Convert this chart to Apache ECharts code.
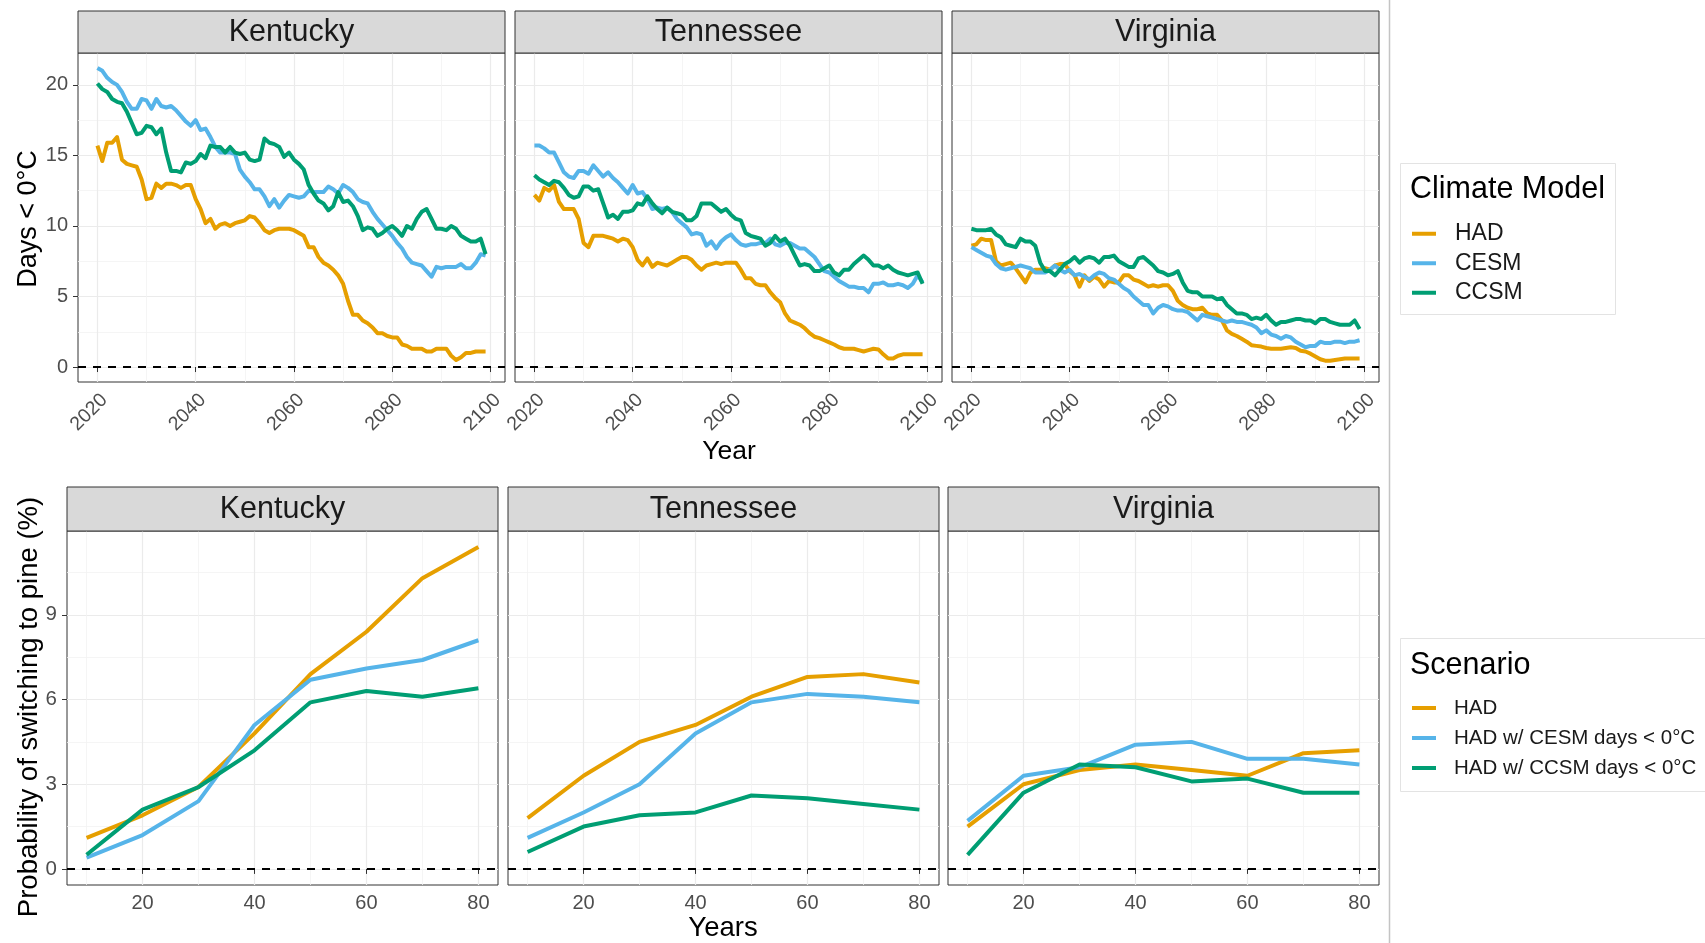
<!DOCTYPE html>
<html>
<head>
<meta charset="utf-8">
<title>Days below 0°C and probability of switching to pine</title>
<script src="https://cdn.jsdelivr.net/npm/echarts@6.0.0/dist/echarts.min.js"></script>
<style>
  html, body { margin: 0; padding: 0; background: #fff; }
  #chart { width: 1705px; height: 943px; }
</style>
</head>
<body>
<div id="chart"></div>
<script>
// ---- data ----
const states = ['Kentucky', 'Tennessee', 'Virginia'];
const climateModels = ['HAD', 'CESM', 'CCSM'];
const scenarios = ['HAD', 'HAD w/ CESM days < 0°C', 'HAD w/ CCSM days < 0°C'];

// yearly values 2020..2099
const years = Array.from({ length: 80 }, (_, i) => 2020 + i);

const kyHad = [15.7,14.6,15.9,15.9,16.3,14.7,14.4,14.3,14.2,13.3,
  11.9,12.0,13.0,12.7,13.0,13.0,12.9,12.7,12.9,12.9,
  11.9,11.2,10.2,10.5,9.8,10.1,10.2,10.0,10.2,10.3,
  10.4,10.7,10.6,10.2,9.7,9.5,9.7,9.8,9.8,9.8,
  9.7,9.5,9.3,8.5,8.5,7.8,7.4,7.2,6.9,6.5,
  5.9,4.7,3.7,3.7,3.3,3.1,2.8,2.4,2.4,2.2,
  2.1,2.1,1.6,1.5,1.3,1.3,1.3,1.1,1.1,1.3,
  1.3,1.3,0.8,0.5,0.7,1.0,1.0,1.1,1.1,1.1];
const kyCesm = [21.2,21.0,20.5,20.2,20.0,19.5,18.8,18.3,18.3,19.0,
  18.9,18.3,19.0,18.5,18.4,18.5,18.2,17.8,17.4,17.1,
  17.5,16.8,16.9,16.3,15.6,15.2,15.2,15.2,15.1,14.0,
  13.5,13.1,12.6,12.6,12.1,11.4,11.9,11.3,11.8,12.2,
  12.1,12.0,12.1,12.5,12.4,12.4,12.4,12.8,12.6,12.3,
  12.9,12.7,12.4,11.9,11.7,11.6,11.0,10.5,10.1,9.7,
  9.3,8.8,8.4,7.8,7.4,7.3,7.2,6.8,6.4,7.1,
  7.0,7.1,7.1,7.1,7.3,7.0,7.0,7.4,8.0,7.9];
const kyCcsm = [20.1,19.7,19.5,19.0,18.8,18.7,18.1,17.3,16.5,16.6,
  17.1,17.0,16.5,16.9,15.2,13.9,13.9,13.8,14.5,14.4,
  14.6,15.1,14.8,15.7,15.6,15.6,15.2,15.6,15.2,15.1,
  15.2,14.7,14.6,14.7,16.2,15.9,15.8,15.6,14.9,15.2,
  14.7,14.4,14.0,12.9,12.3,11.8,11.6,11.1,11.4,12.4,
  11.7,11.8,11.4,10.7,9.7,9.9,9.8,9.3,9.5,9.8,
  10.0,9.7,9.3,10.0,9.8,10.5,11.0,11.2,10.5,9.8,
  9.8,9.7,10.0,9.8,9.3,9.1,8.9,8.9,9.1,8.0];

const tnHad = [12.2,11.8,12.7,12.5,12.9,11.7,11.2,11.2,11.2,10.5,
  8.8,8.5,9.3,9.3,9.3,9.2,9.1,8.9,9.1,9.0,
  8.5,7.6,7.2,7.7,7.1,7.4,7.3,7.2,7.4,7.6,
  7.8,7.8,7.6,7.2,6.9,7.2,7.3,7.4,7.3,7.4,
  7.4,7.4,6.9,6.3,6.3,5.9,5.8,5.8,5.3,4.9,
  4.6,3.8,3.3,3.15,3.0,2.75,2.4,2.15,2.05,1.9,
  1.75,1.6,1.4,1.3,1.3,1.3,1.2,1.1,1.2,1.3,
  1.25,0.9,0.6,0.6,0.8,0.9,0.9,0.9,0.9,0.9];
const tnCesm = [15.7,15.7,15.5,15.2,15.2,14.5,13.8,13.5,13.4,13.9,
  13.9,13.7,14.3,13.9,13.5,13.8,13.4,13.1,12.7,12.3,
  12.9,12.3,12.4,11.9,11.2,11.3,11.2,11.3,11.0,10.5,
  10.2,9.9,9.4,9.5,9.4,8.6,8.9,8.4,8.9,9.2,
  9.4,9.0,8.7,8.6,8.7,8.7,8.8,8.8,9.1,8.7,
  8.6,8.8,8.8,8.6,8.4,8.4,8.1,7.8,7.3,6.8,
  6.7,6.4,6.1,5.9,5.7,5.7,5.6,5.6,5.3,5.9,
  5.9,6.0,5.8,5.8,5.9,5.8,5.6,5.9,6.5,6.0];
const tnCcsm = [13.6,13.3,13.1,12.9,13.2,13.1,12.7,12.2,12.0,12.1,
  12.8,12.8,12.5,12.6,11.6,10.6,10.8,10.5,11.0,11.0,
  11.1,11.6,11.5,12.1,11.6,11.2,10.9,11.3,11.0,10.9,
  10.8,10.4,10.4,10.7,11.6,11.6,11.6,11.3,11.0,11.2,
  10.8,10.5,10.4,9.5,9.3,9.2,9.1,8.6,8.8,9.3,
  8.9,9.1,8.6,7.9,7.2,7.3,7.2,6.8,6.8,7.0,
  7.2,6.7,6.5,6.9,6.9,7.3,7.6,7.9,7.6,7.2,
  7.2,7.0,7.2,6.9,6.7,6.6,6.5,6.6,6.7,5.9];

const vaHad = [8.6,8.7,9.1,9.0,9.0,7.5,7.2,7.3,7.4,7.0,
  6.5,6.0,6.7,6.9,6.9,7.0,6.9,7.2,7.3,7.3,
  6.8,6.5,5.7,6.5,6.1,6.4,6.2,5.7,6.1,6.0,
  6.0,6.5,6.5,6.2,6.1,5.9,5.7,5.8,5.7,5.8,
  5.8,5.4,4.7,4.4,4.2,4.1,4.1,4.2,3.8,3.7,
  3.7,3.3,2.6,2.35,2.2,2.0,1.8,1.55,1.5,1.45,
  1.35,1.3,1.3,1.3,1.35,1.4,1.35,1.15,1.1,0.95,
  0.75,0.55,0.45,0.45,0.5,0.55,0.6,0.6,0.6,0.6];
const vaCesm = [8.5,8.3,8.1,7.9,7.8,7.3,7.0,6.9,7.0,7.1,
  7.2,7.1,7.0,6.7,6.7,6.7,6.9,7.2,6.9,6.7,
  6.9,6.5,6.6,6.4,6.2,6.5,6.7,6.6,6.3,6.2,
  5.9,5.6,5.4,5.0,4.7,4.4,4.4,3.8,4.2,4.4,
  4.3,4.1,4.0,4.0,3.9,3.6,3.3,3.7,3.6,3.5,
  3.4,3.3,3.2,3.3,3.2,3.2,3.1,3.0,2.8,2.4,
  2.6,2.3,2.2,2.0,2.2,2.1,1.8,1.6,1.4,1.5,
  1.5,1.8,1.7,1.7,1.8,1.8,1.7,1.8,1.8,1.9];
const vaCcsm = [9.8,9.7,9.7,9.7,9.8,9.4,9.2,8.7,8.6,8.5,
  9.1,8.9,8.9,8.6,7.4,6.8,6.8,6.5,6.9,7.3,
  7.5,7.8,7.4,7.7,7.8,7.7,7.4,7.8,7.8,7.9,
  7.5,7.3,7.1,7.1,7.7,7.8,7.5,7.2,6.8,6.7,
  6.5,6.6,6.8,6.0,5.4,5.3,5.3,5.0,5.0,5.0,
  4.8,4.9,4.4,4.1,3.8,3.8,3.7,3.4,3.5,3.4,
  3.7,3.3,3.0,3.2,3.2,3.3,3.4,3.4,3.3,3.3,
  3.1,3.4,3.4,3.2,3.1,3.0,3.0,3.0,3.3,2.7];

// probability of switching to pine (%) by stand years
const standYears = [10, 20, 30, 40, 50, 60, 70, 80];
const kyPineHad  = [1.1, 1.9, 2.9, 4.8, 6.9, 8.4, 10.3, 11.4];
const kyPineCesm = [0.4, 1.2, 2.4, 5.1, 6.7, 7.1, 7.4, 8.1];
const kyPineCcsm = [0.5, 2.1, 2.9, 4.2, 5.9, 6.3, 6.1, 6.4];
const tnPineHad  = [1.8, 3.3, 4.5, 5.1, 6.1, 6.8, 6.9, 6.6];
const tnPineCesm = [1.1, 2.0, 3.0, 4.8, 5.9, 6.2, 6.1, 5.9];
const tnPineCcsm = [0.6, 1.5, 1.9, 2.0, 2.6, 2.5, 2.3, 2.1];
const vaPineHad  = [1.5, 3.0, 3.5, 3.7, 3.5, 3.3, 4.1, 4.2];
const vaPineCesm = [1.7, 3.3, 3.6, 4.4, 4.5, 3.9, 3.9, 3.7];
const vaPineCcsm = [0.5, 2.7, 3.7, 3.6, 3.1, 3.2, 2.7, 2.7];

// tick labels
const yearTicks = [2020, 2040, 2060, 2080, 2100];
const yearMinor = [2030, 2050, 2070, 2090];
const daysTicks = [0, 5, 10, 15, 20];
const daysMinor = [2.5, 7.5, 12.5, 17.5];
const standTicks = [20, 40, 60, 80];
const standMinor = [10, 30, 50, 70];
const probTicks = [0, 3, 6, 9];
const probMinor = [1.5, 4.5, 7.5, 10.5];

// ---- style ----
const FONT = '"Liberation Sans", Arial, Helvetica, sans-serif';
const COLORS = ['#E69F00', '#56B4E9', '#009E73'];

// ggplot-like 5% expansion of the data range (0 included by the dashed line)
function expand(lo, hi) {
  const pad = (hi - lo) * 0.05;
  return [lo - pad, hi + pad];
}

const topSeries = [[kyHad, kyCesm, kyCcsm], [tnHad, tnCesm, tnCcsm], [vaHad, vaCesm, vaCcsm]];
const botSeries = [[kyPineHad, kyPineCesm, kyPineCcsm], [tnPineHad, tnPineCesm, tnPineCcsm], [vaPineHad, vaPineCesm, vaPineCcsm]];

const topX = expand(years[0], years[years.length - 1]);
const topY = expand(0, Math.max(...topSeries.flat(2)));
const botX = expand(standYears[0], standYears[standYears.length - 1]);
const botY = expand(0, Math.max(...botSeries.flat(2)));

// panel boxes (pixels)
const topLefts = [78, 515, 952], topW = 427, topTop = 53, topH = 329;
const botLefts = [67, 508, 948], botW = 431, botTop = 531, botH = 354;
const topStrip = { y: 11, h: 42 }, botStrip = { y: 487, h: 44 };

const grids = [], xAxes = [], yAxes = [], series = [], graphics = [];

function addPanel(cfg) {
  const g = grids.length;
  grids.push({
    left: cfg.left, top: cfg.top, width: cfg.width, height: cfg.height,
    show: true, backgroundColor: '#fff', borderColor: '#333333', borderWidth: 1,
    containLabel: false, outerBoundsMode: 'none'
  });

  // major x axis
  const xLabel = {
    customValues: cfg.xTicks, color: '#4D4D4D', fontSize: cfg.tickFont, fontFamily: FONT,
    margin: cfg.xMargin, rotate: cfg.rotate, formatter: v => String(v)
  };
  if (cfg.rotate) { xLabel.align = 'right'; xLabel.verticalAlign = 'top'; }
  xAxes.push({
    type: 'value', gridIndex: g, min: cfg.xRange[0], max: cfg.xRange[1],
    axisLine: { show: false },
    axisTick: { show: true, length: 5, lineStyle: { color: '#333333', width: 1 }, customValues: cfg.xTicks },
    axisLabel: xLabel,
    splitLine: { show: true, lineStyle: { color: '#EBEBEB', width: 1.2 } }
  });
  // minor x grid lines
  xAxes.push({
    type: 'value', gridIndex: g, position: 'top', min: cfg.xRange[0], max: cfg.xRange[1],
    axisLine: { show: false }, axisTick: { show: false, customValues: cfg.xMinor },
    axisLabel: { show: false, customValues: cfg.xMinor },
    splitLine: { show: true, lineStyle: { color: '#F2F2F2', width: 0.8 } }
  });
  // major y axis
  yAxes.push({
    type: 'value', gridIndex: g, min: cfg.yRange[0], max: cfg.yRange[1],
    axisLine: { show: false },
    axisTick: { show: cfg.yLabels, length: 5, lineStyle: { color: '#333333', width: 1 }, customValues: cfg.yTicks },
    axisLabel: {
      show: cfg.yLabels, customValues: cfg.yTicks, color: '#4D4D4D', fontSize: cfg.yTickFont,
      fontFamily: FONT, margin: 10, formatter: v => String(v)
    },
    splitLine: { show: true, lineStyle: { color: '#EBEBEB', width: 1.2 } }
  });
  // minor y grid lines
  yAxes.push({
    type: 'value', gridIndex: g, position: 'right', min: cfg.yRange[0], max: cfg.yRange[1],
    axisLine: { show: false }, axisTick: { show: false, customValues: cfg.yMinor },
    axisLabel: { show: false, customValues: cfg.yMinor },
    splitLine: { show: true, lineStyle: { color: '#F2F2F2', width: 0.8 } }
  });

  cfg.values.forEach((vals, k) => {
    const s = {
      type: 'line', name: cfg.names[k], xAxisIndex: 2 * g, yAxisIndex: 2 * g,
      data: cfg.xs.map((x, i) => [x, vals[i]]),
      showSymbol: false, symbol: 'none', silent: true,
      lineStyle: { color: COLORS[k], width: 4, join: 'round' },
      itemStyle: { color: COLORS[k] },
      z: 3 + k
    };
    if (k === 0) {
      s.markLine = {
        silent: true, symbol: 'none', label: { show: false }, animation: false,
        lineStyle: { color: '#000', type: [8, 7], width: 2 },
        data: [{ yAxis: 0 }]
      };
    }
    series.push(s);
  });

  // facet strip
  graphics.push({
    type: 'rect', z: 10,
    shape: { x: cfg.left, y: cfg.strip.y, width: cfg.width, height: cfg.strip.h },
    style: { fill: '#D9D9D9', stroke: '#333333', lineWidth: 1 }
  });
  graphics.push({
    type: 'text', z: 11, x: cfg.left + cfg.width / 2, y: cfg.strip.y + cfg.strip.h / 2 + 1,
    style: { text: cfg.title, fill: '#1A1A1A', font: '30.5px ' + FONT, align: 'center', verticalAlign: 'middle' }
  });
}

states.forEach((st, i) => addPanel({
  title: st, left: topLefts[i], top: topTop, width: topW, height: topH, strip: topStrip,
  xs: years, xRange: topX, xTicks: yearTicks, xMinor: yearMinor,
  yRange: topY, yTicks: daysTicks, yMinor: daysMinor, yLabels: i === 0,
  values: topSeries[i], names: climateModels, tickFont: 19.5, yTickFont: 20, rotate: 45, xMargin: 8
}));
states.forEach((st, i) => addPanel({
  title: st, left: botLefts[i], top: botTop, width: botW, height: botH, strip: botStrip,
  xs: standYears, xRange: botX, xTicks: standTicks, xMinor: standMinor,
  yRange: botY, yTicks: probTicks, yMinor: probMinor, yLabels: i === 0,
  values: botSeries[i], names: scenarios, tickFont: 20, yTickFont: 20.5, rotate: 0, xMargin: 8
}));

// axis titles
graphics.push(
  { type: 'text', x: 729, y: 452, style: { text: 'Year', font: '26.5px ' + FONT, fill: '#000', align: 'center', verticalAlign: 'middle' } },
  { type: 'text', x: 723, y: 928, style: { text: 'Years', font: '27.5px ' + FONT, fill: '#000', align: 'center', verticalAlign: 'middle' } },
  { type: 'text', x: 29, y: 219, rotation: Math.PI / 2, style: { text: 'Days < 0°C', font: '27px ' + FONT, fill: '#000', align: 'center', verticalAlign: 'middle' } },
  { type: 'text', x: 29, y: 707, rotation: Math.PI / 2, style: { text: 'Probability of switching to pine (%)', font: '27.5px ' + FONT, fill: '#000', align: 'center', verticalAlign: 'middle' } }
);

// separator and legend boxes
graphics.push(
  { type: 'line', shape: { x1: 1389.5, y1: 0, x2: 1389.5, y2: 943 }, style: { stroke: '#C4C4C4', lineWidth: 1.5 } },
  { type: 'rect', shape: { x: 1400.5, y: 163.5, width: 215, height: 151 }, style: { fill: '#fff', stroke: '#E3E3E3', lineWidth: 1 }, z: 1 },
  { type: 'text', x: 1410, y: 190, style: { text: 'Climate Model', font: '30.5px ' + FONT, fill: '#000', align: 'left', verticalAlign: 'middle' }, z: 2 },
  { type: 'rect', shape: { x: 1400.5, y: 638.5, width: 330, height: 153 }, style: { fill: '#fff', stroke: '#E3E3E3', lineWidth: 1 }, z: 1 },
  { type: 'text', x: 1410, y: 666, style: { text: 'Scenario', font: '30.5px ' + FONT, fill: '#000', align: 'left', verticalAlign: 'middle' }, z: 2 }
);

const option = {
  animation: false,
  backgroundColor: '#fff',
  textStyle: { fontFamily: FONT },
  grid: grids,
  xAxis: xAxes,
  yAxis: yAxes,
  legend: [
    {
      data: climateModels, orient: 'vertical', left: 1412, top: 219, padding: 0,
      itemWidth: 24, itemHeight: 4, itemGap: 0, icon: 'rect', selectedMode: false,
      textStyle: { fontSize: 23, lineHeight: 29.5, color: '#1A1A1A', fontFamily: FONT, padding: [0, 0, 0, 14] }
    },
    {
      data: scenarios, orient: 'vertical', left: 1412, top: 693, padding: 0,
      itemWidth: 24, itemHeight: 4, itemGap: 0, icon: 'rect', selectedMode: false,
      textStyle: { fontSize: 20.5, lineHeight: 30, color: '#1A1A1A', fontFamily: FONT, padding: [0, 0, 0, 13] }
    }
  ],
  graphic: { elements: graphics },
  series: series
};

const chart = echarts.init(document.getElementById('chart'));
chart.setOption(option);
</script>
</body>
</html>
